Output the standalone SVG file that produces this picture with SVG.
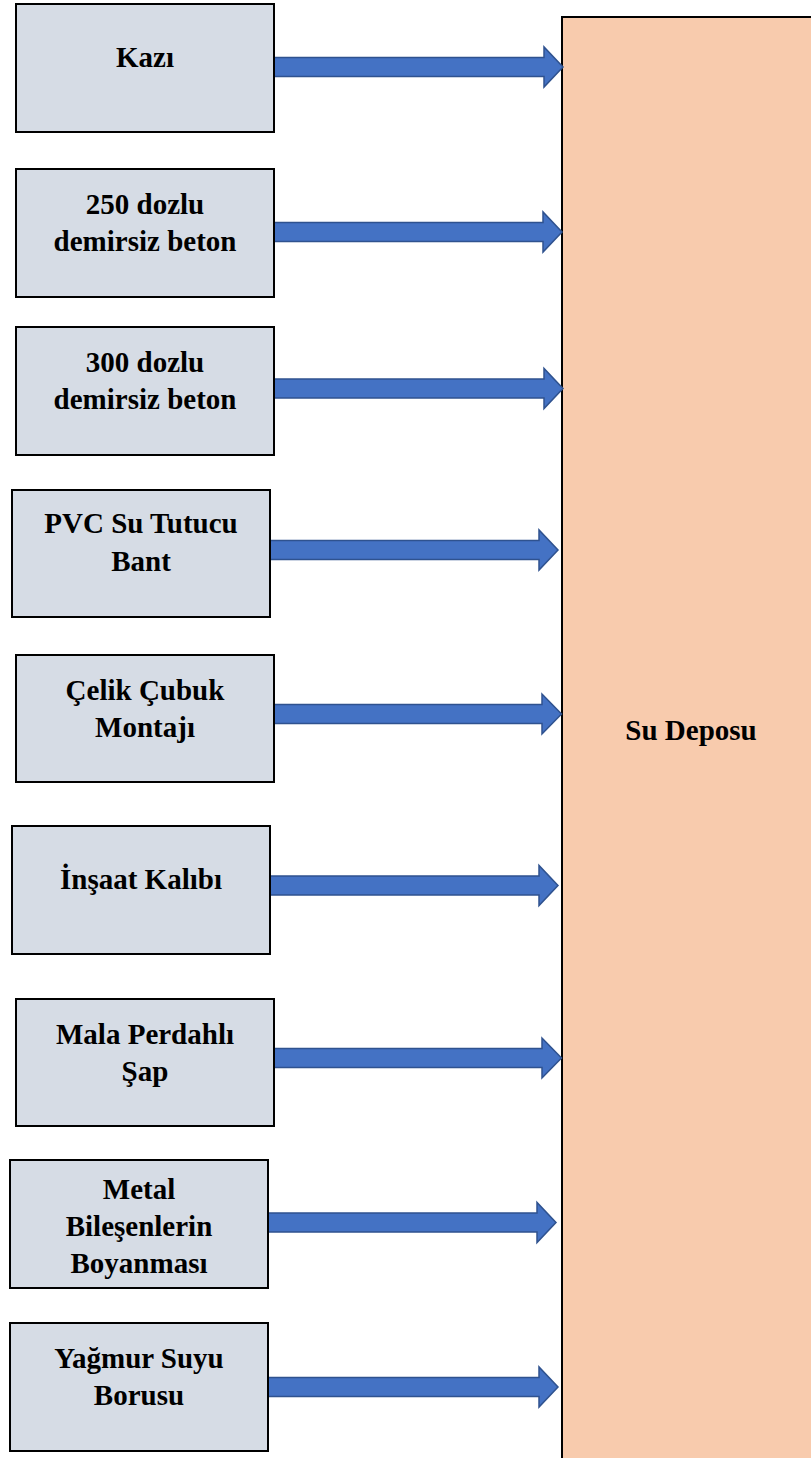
<svg xmlns="http://www.w3.org/2000/svg" width="811" height="1458" viewBox="0 0 811 1458">
  <style>
    .step { fill: #D6DCE5; stroke: #000; stroke-width: 2; }
    .tank { fill: #F8CBAD; stroke: #000; stroke-width: 2; }
    .arrow { fill: #4472C4; stroke: #2F528F; stroke-width: 1.5; stroke-linejoin: miter; }
    text { font-family: "Liberation Serif", "Times New Roman", serif; font-weight: bold; font-size: 29px; fill: #000; text-anchor: middle; }
  </style>

  <!-- target: water tank -->
  <g id="su-deposu">
    <rect class="tank" x="562" y="17" width="300" height="1480"/>
    <text x="691" y="740">Su Deposu</text>
  </g>

  <!-- block arrows from each work item to the tank -->
  <g id="connectors">
    <polygon class="arrow" points="274,57.5 544,57.5 544,47 563,67 544,87 544,76.5 274,76.5"/>
    <polygon class="arrow" points="274,222.5 543,222.5 543,212 562,232 543,252 543,241.5 274,241.5"/>
    <polygon class="arrow" points="274,379 544,379 544,368.5 563,388.5 544,408.5 544,398 274,398"/>
    <polygon class="arrow" points="270,540.5 539,540.5 539,530 558,550 539,570 539,559.5 270,559.5"/>
    <polygon class="arrow" points="274,704.5 542,704.5 542,694 561.5,714 542,734 542,723.5 274,723.5"/>
    <polygon class="arrow" points="270,876 539,876 539,865.5 558,885.5 539,905.5 539,895 270,895"/>
    <polygon class="arrow" points="274,1048.5 542,1048.5 542,1038 561.5,1058 542,1078 542,1067.5 274,1067.5"/>
    <polygon class="arrow" points="268,1213 537,1213 537,1202.5 556,1222.5 537,1242.5 537,1232 268,1232"/>
    <polygon class="arrow" points="268,1377.5 539,1377.5 539,1367 558,1387 539,1407 539,1396.5 268,1396.5"/>
  </g>

  <g id="kazi">
    <rect class="step" x="16" y="4" width="258" height="128"/>
    <text x="145" y="67">Kazı</text>
  </g>

  <g id="beton-250">
    <rect class="step" x="16" y="169" width="258" height="128"/>
    <text x="145" y="214">250 dozlu</text>
    <text x="145" y="251">demirsiz beton</text>
  </g>

  <g id="beton-300">
    <rect class="step" x="16" y="327" width="258" height="128"/>
    <text x="145" y="372">300 dozlu</text>
    <text x="145" y="409">demirsiz beton</text>
  </g>

  <g id="pvc-bant">
    <rect class="step" x="12" y="490" width="258" height="127"/>
    <text x="141" y="533">PVC Su Tutucu</text>
    <text x="141" y="570.5">Bant</text>
  </g>

  <g id="celik-cubuk">
    <rect class="step" x="16" y="655" width="258" height="127"/>
    <text x="145" y="700">Çelik Çubuk</text>
    <text x="145" y="737">Montajı</text>
  </g>

  <g id="insaat-kalibi">
    <rect class="step" x="12" y="826" width="258" height="128"/>
    <text x="141" y="889">İnşaat Kalıbı</text>
  </g>

  <g id="mala-sap">
    <rect class="step" x="16" y="999" width="258" height="127"/>
    <text x="145" y="1044">Mala Perdahlı</text>
    <text x="145" y="1081">Şap</text>
  </g>

  <g id="metal-boya">
    <rect class="step" x="10" y="1160" width="258" height="128"/>
    <text x="139" y="1199">Metal</text>
    <text x="139" y="1236">Bileşenlerin</text>
    <text x="139" y="1272.5">Boyanması</text>
  </g>

  <g id="yagmur-borusu">
    <rect class="step" x="10" y="1323" width="258" height="128"/>
    <text x="139" y="1368">Yağmur Suyu</text>
    <text x="139" y="1405">Borusu</text>
  </g>
</svg>
